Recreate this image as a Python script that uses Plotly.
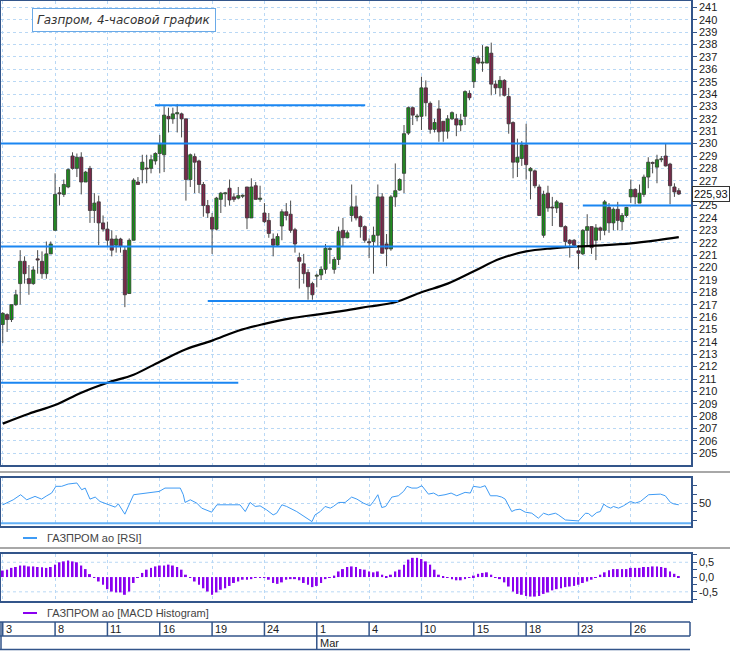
import plotly.graph_objs as go

# 4-hour candles, Gazprom (bar index 0..155)
opens = [215.4, 216.2, 215.8, 217.0, 218.7, 220.5, 219.1, 218.7, 220.7, 220.5,
         219.5, 221.1, 223.0, 226.0, 225.9, 226.5, 229.0, 228.0, 228.9, 226.9,
         228.0, 224.6, 225.3, 223.6, 223.1, 222.3, 221.8, 222.3, 221.4, 217.9,
         222.2, 226.9, 227.9, 228.0, 228.0, 228.6, 229.2, 229.1, 232.2, 232.0,
         232.4, 232.4, 232.0, 227.1, 228.95, 228.6, 226.7, 225.0, 224.05, 223.1,
         225.5, 225.95, 226.4, 225.7, 225.6, 225.75, 226.5, 224.0, 226.6, 225.5,
         224.4, 223.8, 222.3, 221.8, 223.35, 224.5, 224.3, 223.05, 220.8, 220.3,
         219.6, 218.7, 219.3, 219.4, 219.85, 221.45, 219.85, 220.65, 223.0, 222.4,
         224.2, 224.9, 224.1, 223.3, 222.05, 222.1, 222.6, 225.7, 221.9, 221.5,
         225.7, 226.25, 227.6, 230.85, 232.9, 232.15, 232.2, 234.5, 233.25, 231.15,
         232.8, 231.8, 231.0, 232.0, 232.0, 231.5, 232.2, 234.05, 235.0, 236.9,
         236.5, 236.5, 237.3, 234.8, 234.5, 235.1, 233.8, 231.7, 228.5, 228.8,
         229.9, 227.8, 227.8, 226.5, 222.6, 226.0, 224.85, 224.8, 225.2, 223.3,
         222.2, 222.2, 221.35, 221.1, 223.0, 223.3, 222.2, 223.2, 223.0, 224.85,
         223.6, 224.7, 223.7, 224.2, 225.7, 226.3, 225.2, 225.9, 227.3, 228.45,
         228.1, 228.7, 229.0, 228.35, 226.5, 226.2]
highs = [216.4, 216.3, 217.0, 218.2, 221.4, 220.9, 220.2, 220.1, 221.4, 221.3,
         222.1, 222.1, 227.6, 226.5, 227.1, 228.0, 229.3, 229.2, 229.3, 227.8,
         228.2, 226.0, 225.8, 224.2, 223.7, 223.0, 222.6, 222.4, 221.7, 222.35,
         227.2, 227.3, 229.1, 229.1, 229.1, 229.3, 230.7, 233.0, 232.9, 232.9,
         233.2, 232.5, 232.0, 229.2, 229.2, 228.7, 226.9, 225.45, 224.4, 225.7,
         226.1, 226.1, 227.1, 226.0, 226.5, 225.9, 226.5, 227.2, 226.9, 226.6,
         225.2, 224.4, 222.75, 222.75, 224.7, 225.2, 225.4, 223.2, 221.2, 221.1,
         219.85, 218.85, 219.5, 220.1, 221.9, 221.7, 220.85, 223.3, 224.0, 223.0,
         226.7, 225.8, 224.2, 223.4, 222.35, 223.3, 226.7, 226.0, 222.7, 225.85,
         228.4, 227.2, 231.5, 233.0, 233.0, 232.4, 235.4, 235.1, 233.4, 232.0,
         233.5, 231.8, 232.3, 232.6, 232.4, 232.4, 234.3, 234.3, 237.0, 237.1,
         237.95, 237.85, 238.15, 235.1, 235.45, 235.2, 234.5, 231.8, 230.4, 230.2,
         231.6, 228.1, 227.9, 226.7, 226.2, 226.6, 225.7, 225.45, 225.25, 223.4,
         222.3, 222.3, 221.8, 223.1, 224.3, 223.35, 223.5, 223.3, 225.45, 225.2,
         224.85, 225.3, 224.4, 224.9, 227.1, 226.4, 226.7, 227.5, 228.9, 228.55,
         229.1, 229.0, 230.0, 228.45, 226.8, 226.4]
lows = [213.9, 214.8, 215.6, 216.9, 217.0, 218.7, 217.8, 218.6, 219.5, 219.1,
        219.1, 221.1, 223.0, 225.0, 225.7, 226.4, 227.9, 227.3, 225.9, 226.9,
        223.6, 223.6, 221.8, 222.9, 221.7, 220.9, 221.2, 221.2, 216.8, 217.9,
        222.2, 226.7, 226.8, 226.8, 227.6, 228.3, 227.6, 227.7, 230.9, 231.6,
        230.9, 230.5, 225.4, 226.5, 226.0, 226.0, 224.1, 224.0, 221.1, 223.0,
        224.4, 224.9, 225.0, 225.3, 225.5, 225.6, 223.1, 224.0, 225.5, 225.3,
        223.6, 222.4, 220.9, 221.7, 222.2, 223.8, 222.8, 221.2, 218.3, 218.7,
        217.4, 217.4, 218.4, 219.0, 219.5, 220.3, 219.5, 220.2, 221.7, 222.35,
        223.7, 223.8, 222.4, 222.0, 220.75, 219.5, 221.7, 221.15, 220.1, 221.35,
        224.9, 226.2, 226.0, 230.7, 231.5, 231.8, 231.1, 232.2, 230.8, 230.9,
        230.15, 230.15, 230.4, 231.9, 230.6, 231.0, 231.5, 233.5, 234.5, 236.4,
        235.8, 236.5, 233.9, 234.0, 233.8, 233.8, 230.8, 227.2, 227.3, 228.2,
        227.1, 225.5, 226.4, 224.2, 222.4, 224.5, 223.35, 224.4, 223.25, 221.7,
        220.8, 221.7, 219.85, 221.0, 221.7, 221.1, 220.6, 222.2, 222.6, 222.8,
        223.0, 223.0, 223.0, 224.05, 225.2, 225.1, 225.2, 225.7, 226.4, 227.6,
        226.8, 228.5, 228.15, 225.1, 225.7, 225.85]
closes = [216.3, 215.8, 217.0, 217.8, 220.5, 219.5, 218.7, 219.8, 220.6, 219.5,
          221.1, 221.9, 225.9, 225.95, 226.7, 227.9, 228.0, 228.9, 226.9, 227.7,
          224.6, 225.2, 223.6, 223.1, 222.2, 221.4, 222.3, 221.7, 217.8, 222.2,
          227.05, 226.7, 228.5, 227.95, 228.7, 229.2, 230.0, 232.3, 232.0, 232.4,
          232.5, 232.0, 227.1, 229.1, 228.5, 226.7, 225.0, 224.4, 223.1, 225.6,
          226.0, 226.0, 225.45, 225.5, 225.8, 225.8, 224.0, 226.5, 225.5, 225.6,
          223.7, 222.75, 221.8, 222.5, 224.5, 224.2, 223.0, 221.9, 220.5, 219.5,
          218.45, 217.8, 219.3, 219.85, 221.55, 221.5, 220.65, 222.9, 222.4, 222.8,
          224.9, 224.0, 223.3, 222.2, 222.0, 222.6, 225.7, 221.15, 221.5, 225.7,
          226.2, 227.1, 230.8, 232.9, 232.3, 232.2, 234.5, 233.3, 231.15, 231.7,
          230.95, 231.0, 232.0, 232.5, 231.5, 231.9, 234.2, 233.7, 236.95, 236.5,
          236.55, 237.8, 234.8, 234.5, 235.1, 233.9, 231.6, 228.5, 228.9, 229.9,
          228.3, 228.0, 226.6, 224.2, 225.9, 224.8, 224.8, 225.3, 223.3, 222.1,
          221.95, 221.8, 221.15, 223.0, 223.3, 221.6, 223.2, 223.0, 225.3, 223.6,
          224.7, 223.8, 224.2, 224.85, 226.3, 225.7, 226.0, 227.3, 228.5, 228.4,
          228.7, 228.75, 228.2, 226.6, 226.1, 225.93]
bars = list(range(len(closes)))

# long moving average, read at every 6th bar
ma_bars = [0, 6, 12, 18, 24, 30, 36, 42, 48, 54, 60, 66, 72, 78, 84, 90, 96,
           102, 108, 114, 120, 126, 132, 138, 144, 150, 155]
ma_vals = [207.4, 208.2, 208.9, 209.9, 210.7, 211.35, 212.4, 213.4, 214.1, 214.9,
           215.45, 215.9, 216.2, 216.5, 216.85, 217.2, 218.0, 218.7, 219.7, 220.7,
           221.3, 221.55, 221.7, 221.8, 221.95, 222.2, 222.45]

# hand-drawn support / resistance levels (price, from bar, to bar)
level_price = [230.0, 221.7, 233.1, 217.3, 210.7, 225.0]
level_from = [-0.6, -0.6, 34.9, 47.0, -0.6, 133.0]
level_to = [157.8, 131.7, 83.1, 90.7, 54.0, 157.8]

# RSI line vertices
rsi_x = [0, 0.9, 2.4, 4.1, 5.5, 7.4, 8.9, 10.1, 11.2, 12.2, 13.5, 15.0, 17.0, 18.1,
         18.9, 20.0, 21.2, 22.3, 24.6, 25.8, 26.5, 28.0, 30.0, 31.5, 33.0, 34.9,
         35.9, 37.2, 39.1, 40.7, 41.4, 41.8, 43.0, 44.5, 45.6, 46.8, 47.9, 49.1,
         52.1, 54.4, 55.6, 56.7, 57.9, 59.0, 60.5, 62.0, 62.8, 64.0, 65.1, 67.4,
         70.9, 71.6, 72.8, 73.9, 75.1, 75.8, 77.0, 78.5, 80.0, 81.2, 82.7, 84.2,
         85.0, 86.0, 86.9, 87.8, 89.2, 90.7, 91.9, 92.7, 93.8, 95.0, 96.1, 97.6,
         98.8, 99.9, 101.4, 102.8, 104.1, 106.0, 107.2, 107.9, 109.5, 110.6, 111.8,
         113.3, 114.4, 115.2, 116.7, 117.5, 118.6, 119.8, 121.3, 122.8, 124.0,
         125.1, 126.7, 127.4, 129.0, 130.5, 132.0, 133.6, 134.3, 135.1, 136.2,
         137.0, 137.8, 138.5, 139.4, 140.0, 141.2, 142.3, 143.9, 145.0, 146.2,
         148.1, 149.6, 150.8, 151.9, 153.1, 153.8, 155.0]
rsi_y = [48.1, 50.0, 53.8, 59.6, 53.8, 57.7, 54.6, 58.4, 61.5, 69.2, 69.2, 71.8, 73.0,
         65.3, 67.2, 54.6, 56.9, 51.9, 48.1, 45.4, 49.2, 37.4, 59.6, 60.7, 61.5,
         62.6, 63.4, 67.2, 67.2, 67.2, 59.6, 50.8, 53.8, 50.0, 44.3, 42.3, 39.7,
         48.1, 48.1, 48.1, 40.4, 50.8, 46.2, 46.9, 42.3, 36.6, 38.5, 48.1, 46.2,
         40.4, 28.9, 36.6, 40.4, 46.2, 44.3, 46.2, 50.8, 50.8, 56.9, 54.6, 50.0,
         46.9, 51.9, 59.6, 45.0, 46.2, 56.9, 58.4, 63.4, 69.2, 67.2, 67.2, 69.9,
         60.3, 61.5, 58.4, 59.6, 61.5, 58.4, 62.3, 61.5, 69.2, 68.0, 69.9, 58.4,
         58.4, 56.9, 54.6, 40.4, 42.3, 43.1, 39.7, 38.5, 32.8, 38.5, 36.6, 38.5,
         36.6, 30.8, 30.1, 29.7, 38.5, 38.1, 34.7, 39.3, 40.4, 48.9, 46.2, 44.3,
         46.2, 44.3, 46.9, 51.9, 50.0, 51.9, 59.6, 60.3, 60.3, 58.4, 50.8, 49.2,
         48.1]

# MACD histogram, one value per bar
macd_hist = [0.22, 0.25, 0.31, 0.34, 0.39, 0.39, 0.36, 0.36, 0.34, 0.33,
             0.31, 0.34, 0.42, 0.50, 0.53, 0.56, 0.53, 0.50, 0.39, 0.27,
             0.10, -0.03, -0.15, -0.26, -0.41, -0.49, -0.52, -0.52, -0.60, -0.49,
             -0.20, -0.03, 0.14, 0.25, 0.31, 0.36, 0.39, 0.39, 0.42, 0.39,
             0.34, 0.25, 0.08, -0.03, -0.15, -0.26, -0.38, -0.49, -0.60, -0.52,
             -0.43, -0.38, -0.30, -0.20, -0.15, -0.09, -0.09, -0.07, -0.03, -0.03,
             -0.03, -0.09, -0.20, -0.23, -0.18, -0.09, -0.07, -0.07, -0.11, -0.20,
             -0.26, -0.34, -0.30, -0.20, -0.07, -0.02, 0.05, 0.19, 0.27, 0.34,
             0.36, 0.34, 0.27, 0.25, 0.19, 0.16, 0.19, 0.08, 0.01, 0.08,
             0.19, 0.25, 0.42, 0.59, 0.65, 0.65, 0.61, 0.53, 0.42, 0.25,
             0.08, 0.01, -0.03, -0.07, -0.11, -0.11, -0.07, -0.03, 0.05, 0.11,
             0.14, 0.16, 0.08, -0.01, -0.07, -0.18, -0.32, -0.49, -0.57, -0.60,
             -0.64, -0.66, -0.66, -0.64, -0.57, -0.52, -0.45, -0.41, -0.38, -0.34,
             -0.32, -0.30, -0.26, -0.20, -0.15, -0.09, -0.03, 0.08, 0.16, 0.23,
             0.27, 0.27, 0.27, 0.27, 0.31, 0.31, 0.31, 0.34, 0.34, 0.36,
             0.36, 0.34, 0.31, 0.19, 0.11, 0.02]

# date strip
day_bars = [0, 12, 24, 36, 48, 60, 72, 84, 96, 108, 120, 132, 144]
day_text = ['3', '8', '11', '16', '19', '24', '1', '4', '10', '15', '18', '23', '26']
month_bar = 72
month_text = 'Mar'

W, H = 730, 651
ML, MR = 1, 39
def fx(px):
    return (px - ML) / (W - ML - MR)
def fy(py):
    return 1 - py / H

FRAME = '#33558A'
GRID = '#B9D8F5'
FONT = 'Liberation Sans'
XR = [-0.4, 157.8]
UP, DOWN = '#00C000', '#A30E4C'

# wicks as one broken line, bodies as floating bars
wick_x, wick_y = [], []
for i, h, l in zip(bars, highs, lows):
    wick_x += [i, i, None]
    wick_y += [l, h, None]
body_base = [min(o, c) for o, c in zip(opens, closes)]
body_len = [max(abs(c - o), 0.08) for o, c in zip(opens, closes)]
body_col = [UP if c >= o else DOWN for o, c in zip(opens, closes)]

fig = go.Figure()
fig.add_trace(go.Scatter(x=wick_x, y=wick_y, mode='lines', line=dict(color='#4A4A4A', width=1),
                         xaxis='x', yaxis='y', hoverinfo='skip'))
fig.add_trace(go.Bar(x=bars, y=body_len, base=body_base, width=0.72,
                     marker=dict(color=body_col, line=dict(color='#2E2E2E', width=0.8)),
                     xaxis='x', yaxis='y', hoverinfo='skip'))
fig.add_trace(go.Scatter(x=ma_bars, y=ma_vals, mode='lines', line=dict(color='black', width=2.2, shape='spline'),
                         xaxis='x', yaxis='y', hoverinfo='skip'))
fig.add_trace(go.Scatter(x=rsi_x, y=rsi_y, mode='lines', line=dict(color='#3E9BF5', width=1),
                         xaxis='x2', yaxis='y2', hoverinfo='skip'))
fig.add_trace(go.Bar(x=bars, y=macd_hist, width=0.45, marker=dict(color='#8A00F0', line=dict(width=0)),
                     xaxis='x3', yaxis='y3', hoverinfo='skip'))

shapes = []
for p, a, b in zip(level_price, level_from, level_to):
    shapes.append(dict(type='line', xref='x', yref='y', x0=a, x1=b, y0=p, y1=p,
                       line=dict(color='#1A86F2', width=2)))
# RSI floor line
shapes.append(dict(type='line', xref='x2', yref='y2', x0=XR[0], x1=XR[1], y0=27, y1=27,
                   line=dict(color='#62B0F7', width=2)))
# MACD grid at +-0.5
for v in (-0.5, 0.5):
    shapes.append(dict(type='line', xref='x3', yref='y3', x0=XR[0], x1=XR[1], y0=v, y1=v, layer='below',
                       line=dict(color=GRID, width=1, dash='3px,3px')))
# panel separators
for py in (472, 548):
    shapes.append(dict(type='line', xref='paper', yref='paper', x0=fx(0), x1=fx(730), y0=fy(py), y1=fy(py),
                       line=dict(color='#A8A8A8', width=2)))
# legend line samples
shapes.append(dict(type='line', xref='paper', yref='paper', x0=fx(23), x1=fx(37), y0=fy(538), y1=fy(538),
                   line=dict(color='#3E9BF5', width=2)))
shapes.append(dict(type='line', xref='paper', yref='paper', x0=fx(23), x1=fx(37), y0=fy(613), y1=fy(613),
                   line=dict(color='#8A00F0', width=2)))
# date strip frame
for py in (622, 636, 649.5):
    shapes.append(dict(type='line', xref='paper', yref='paper', x0=fx(0), x1=fx(690), y0=fy(py), y1=fy(py),
                       line=dict(color=FRAME, width=1.5)))
shapes.append(dict(type='line', xref='paper', yref='paper', x0=fx(1), x1=fx(1), y0=fy(622), y1=fy(649.5),
                   line=dict(color=FRAME, width=1.5)))
shapes.append(dict(type='line', xref='paper', yref='paper', x0=fx(690), x1=fx(690), y0=fy(622), y1=fy(636),
                   line=dict(color=FRAME, width=1.5)))
for b in day_bars:
    bottom = 649.5 if b == month_bar else 636
    shapes.append(dict(type='line', xref='x', yref='paper', x0=b, x1=b, y0=fy(622), y1=fy(bottom),
                       line=dict(color=FRAME, width=1.5)))

annotations = []
for b, t in zip(day_bars, day_text):
    annotations.append(dict(x=b, y=fy(629), xref='x', yref='paper', text=t, showarrow=False,
                            xanchor='left', yanchor='middle', xshift=1, font=dict(family=FONT, size=11, color='#222')))
annotations.append(dict(x=month_bar, y=fy(643), xref='x', yref='paper', text=month_text, showarrow=False,
                        xanchor='left', yanchor='middle', xshift=1, font=dict(family=FONT, size=11, color='#222')))
annotations.append(dict(x=fx(32), y=fy(20), xref='paper', yref='paper', text='<i>Газпром, 4-часовой график</i>',
                        showarrow=False, xanchor='left', yanchor='middle', bgcolor='white', bordercolor='#6AAAE8',
                        borderwidth=1, borderpad=4, font=dict(family='DejaVu Sans', size=12, color='#333')))
annotations.append(dict(x=fx(692), y=closes[-1], xref='paper', yref='y', text=('%.2f' % closes[-1]).replace('.', ','),
                        showarrow=False, xanchor='left', yanchor='middle', bgcolor='white', bordercolor='#333',
                        borderwidth=1, borderpad=1, font=dict(family=FONT, size=11, color='#111')))
annotations.append(dict(x=fx(45), y=fy(538), xref='paper', yref='paper', text='ГАЗПРОМ ао [RSI]', showarrow=False,
                        xanchor='left', yanchor='middle', font=dict(family=FONT, size=11, color='#444')))
annotations.append(dict(x=fx(45), y=fy(613), xref='paper', yref='paper', text='ГАЗПРОМ ао [MACD Histogram]',
                        showarrow=False, xanchor='left', yanchor='middle', font=dict(family=FONT, size=11, color='#444')))

xcommon = dict(range=XR, tickvals=day_bars, showticklabels=False, ticks='', showgrid=True, gridcolor=GRID,
               griddash='3px,3px', zeroline=False, showline=True, mirror=True, linecolor=FRAME, linewidth=1.5)
ycommon = dict(side='right', ticks='outside', ticklen=4, tickcolor=FRAME, zeroline=False, showline=True,
               mirror=True, linecolor=FRAME, linewidth=1.5, tickfont=dict(family=FONT, size=11, color='#222'))

fig.update_layout(
    width=W, height=H, margin=dict(l=ML, r=MR, t=0, b=0), paper_bgcolor='white', plot_bgcolor='white',
    showlegend=False, barmode='overlay',
    xaxis=dict(domain=[0, 1], anchor='y', **xcommon),
    yaxis=dict(domain=[fy(465), fy(1)], anchor='x', range=[204.06, 241.51], dtick=1, tick0=205,
               showgrid=True, gridcolor=GRID, griddash='3px,3px', **ycommon),
    xaxis2=dict(domain=[0, 1], anchor='y2', matches='x', **xcommon),
    yaxis2=dict(domain=[fy(526), fy(478)], anchor='x2', range=[23.9, 78.7], tickvals=[50], ticktext=['50'],
                showgrid=True, gridcolor=GRID, griddash='3px,3px',
                minor=dict(tickvals=[30, 40, 60, 70], ticks='outside', ticklen=4, tickcolor=FRAME, showgrid=False),
                **ycommon),
    xaxis3=dict(domain=[0, 1], anchor='y3', matches='x', **xcommon),
    yaxis3=dict(domain=[fy(601), fy(554)], anchor='x3', range=[-0.81, 0.78], tickvals=[-0.5, 0, 0.5],
                ticktext=['-0,5', '0,0', '0,5'], showgrid=False,
                minor=dict(tickvals=[-0.75, -0.25, 0.25, 0.75], ticks='outside', ticklen=4, tickcolor=FRAME),
                **ycommon),
    shapes=shapes, annotations=annotations,
)

fig.write_html("out.html", config={'displayModeBar': False},
               post_script="document.body.style.margin='0';document.body.style.overflow='hidden';")
